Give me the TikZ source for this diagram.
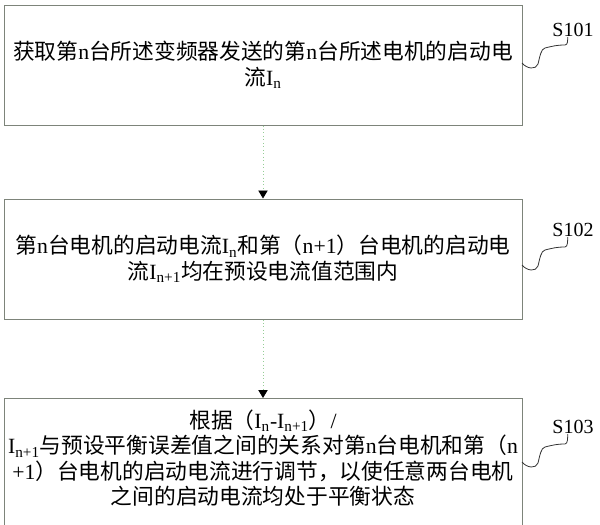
\documentclass[tikz,border=0pt]{standalone}
\usepackage{fontspec}
\setmainfont{Liberation Serif}
\newfontfamily\cjk{Noto Sans CJK SC}
\usetikzlibrary{arrows.meta}

\begin{document}
\begin{tikzpicture}[x=0.75pt,y=-0.75pt,
		stepbox/.style={draw={rgb,255:red,125;green,132;blue,122}, line width=0.75pt, minimum width=388.5pt, minimum height=90pt, align=center, inner sep=0pt, font=\fontsize{16.3}{19}\selectfont},
		steptext/.style={align=center, inner sep=0pt, font=\fontsize{16.3}{19}\selectfont},
		steplabel/.style={inner sep=0pt, font=\fontsize{15}{16}\selectfont},
		flow/.style={dotted, line width=0.6pt, draw={rgb,255:red,150;green,205;blue,150}, -{Triangle[width=7pt,length=6pt,black]}},
		squig/.style={line width=0.6pt, draw=black!80}]
	\useasboundingbox (0,0) rectangle (600,525);
	\clip (0,0) rectangle (600,525);

	\node[stepbox] (b1) at (263,65) {{\cjk 获取第}n{\cjk 台所述变频器发送的第}n{\cjk 台所述电机的启动电}\\{\cjk 流}I\textsubscript{n}};
	\node[stepbox] (b2) at (263,259) {{\cjk 第}n{\cjk 台电机的启动电流}I\textsubscript{n}{\cjk 和第（}n+1{\cjk ）台电机的启动电}\\{\cjk 流}I\textsubscript{n+1}{\cjk 均在预设电流值范围内}};
	\node[stepbox, minimum height=112.5pt, anchor=north] (b3) at (263,398) {};
	\node[steptext] (t3) at (263,458) {{\cjk 根据（}I\textsubscript{n}-I\textsubscript{n+1}{\cjk ）}/\\I\textsubscript{n+1}{\cjk 与预设平衡误差值之间的关系对第}n{\cjk 台电机和第（}n\\+1{\cjk ）台电机的启动电流进行调节，以使任意两台电机}\\{\cjk 之间的启动电流均处于平衡状态}};

	\node[steplabel] (s101) at (573,30) {S101};
	\node[steplabel] (s102) at (573,230) {S102};
	\node[steplabel] (s103) at (573,427) {S103};

	\coordinate (e1) at (522,63);
	\coordinate (e2) at (522,265);
	\coordinate (e3) at (522,462);

	\draw [flow](b1) -- (b2);
	\draw [flow](b2) -- (b3);

	\draw [squig](e1) .. controls +(5,6) and +(-2,6) .. ++(16,1) .. controls +(2,-8) and +(-4,1) .. ++(7,-16) .. controls +(8,-2) and +(-8,0) .. ++(20,-3) .. controls +(3,0) and +(0,3) .. ([xshift=-4pt]s101.south);
	\draw [squig](e2) .. controls +(5,6) and +(-2,6) .. ++(16,1) .. controls +(2,-8) and +(-4,1) .. ++(7,-16) .. controls +(8,-2) and +(-8,0) .. ++(20,-3) .. controls +(3,0) and +(0,3) .. ([xshift=-4pt]s102.south);
	\draw [squig](e3) .. controls +(5,6) and +(-2,6) .. ++(16,1) .. controls +(2,-8) and +(-4,1) .. ++(7,-16) .. controls +(8,-2) and +(-8,0) .. ++(20,-3) .. controls +(3,0) and +(0,3) .. ([xshift=-4pt]s103.south);
\end{tikzpicture}
\end{document}
